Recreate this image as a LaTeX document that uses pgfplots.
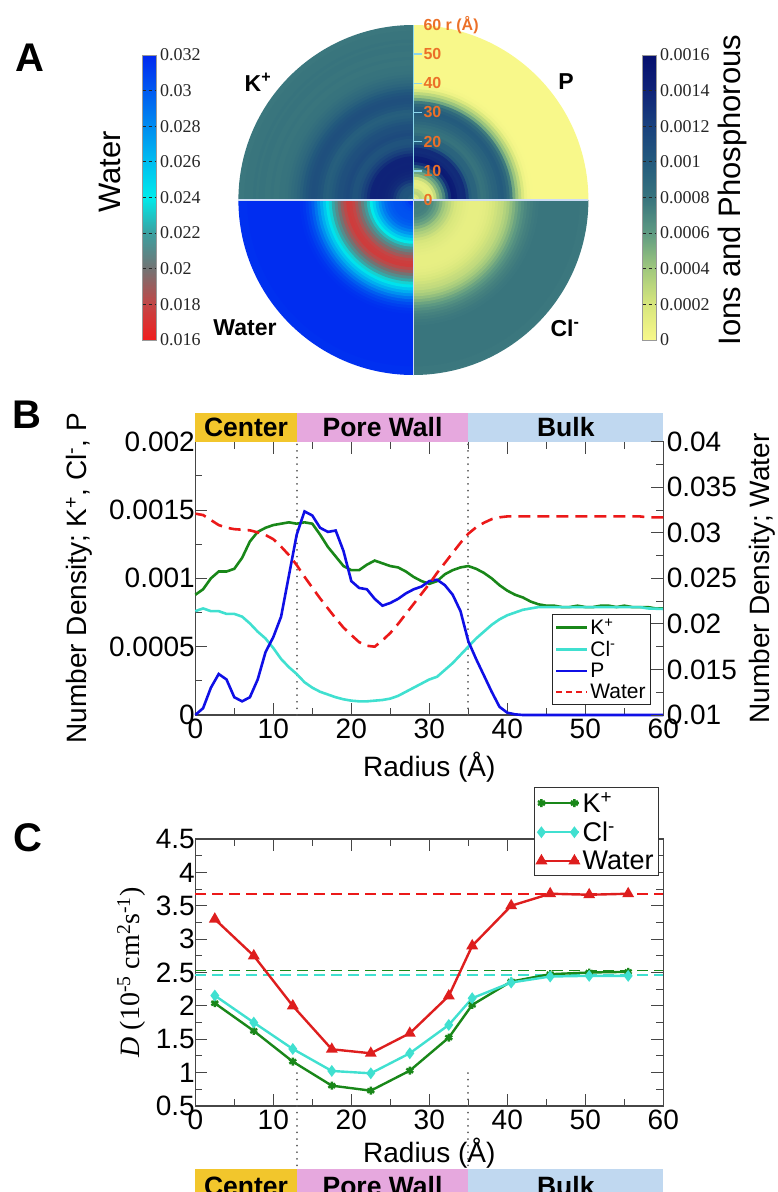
\documentclass[border=0pt]{standalone}
\usepackage{fontspec}
\setmainfont{Liberation Sans}
\newfontfamily\tnr{Liberation Serif}
\usepackage{pgfplots}
\usepackage{pgfplotstable}
\pgfplotsset{compat=1.18}

\newcommand{\fs}[1]{\fontsize{#1bp}{#1bp}\selectfont}

\definecolor{kgreen}{RGB}{25,135,25}
\definecolor{clcyan}{RGB}{64,224,208}
\definecolor{pblue}{RGB}{15,15,230}
\definecolor{wred}{RGB}{235,25,25}
\definecolor{dred}{RGB}{222,30,30}
\definecolor{orangelab}{RGB}{235,112,40}
\definecolor{centerband}{RGB}{242,198,44}
\definecolor{poreband}{RGB}{230,168,222}
\definecolor{bulkband}{RGB}{192,216,240}
\definecolor{frame}{RGB}{70,70,70}
\definecolor{dotgray}{RGB}{90,90,90}
\definecolor{sepline}{RGB}{205,220,245}
\definecolor{radaxis}{RGB}{140,215,235}

% radial number-density profiles (r in Angstrom)
\pgfplotstableread{
r  K       Cl       P        W
60 0.00078 0.000776 0        0.0317
59 0.00078 0.000778 0        0.0317
58 0.00079 0.00078  0        0.0317
57 0.00079 0.00079  0        0.0318
56 0.00079 0.00079  0        0.0318
55 0.00080 0.00079  0        0.0318
54 0.00079 0.00079  0        0.0318
53 0.00080 0.00079  0        0.0318
52 0.00080 0.00079  0        0.0318
51 0.00079 0.00079  0        0.0318
50 0.00079 0.00079  0        0.0318
49 0.00080 0.00079  0        0.0318
48 0.00079 0.00079  0        0.0318
47 0.00079 0.00079  0        0.0318
46 0.00080 0.00079  0        0.0318
45 0.00080 0.00079  0        0.0318
44 0.00081 0.00079  0        0.0318
43 0.00083 0.00078  0        0.0318
42 0.00086 0.00077  0        0.0318
41 0.00088 0.00075  0.000005 0.0318
40 0.00091 0.00073  0.000017 0.0318
39 0.00095 0.00070  0.00006  0.0317
38 0.00100 0.00066  0.00017  0.0315
37 0.00104 0.00061  0.00029  0.0311
36 0.00107 0.00056  0.00041  0.0306
35 0.00109 0.00050  0.00054  0.0299
34 0.00108 0.00044  0.00076  0.0289
33 0.00106 0.00038  0.00088  0.0278
32 0.00103 0.00033  0.00095  0.0267
31 0.00098 0.00028  0.00099  0.0256
30 0.00096 0.00026  0.00098  0.0244
29 0.00098 0.00023  0.00094  0.0233
28 0.00101 0.00020  0.00092  0.0222
27 0.00105 0.00017  0.00089  0.0211
26 0.00108 0.00014  0.00085  0.0200
25 0.00109 0.00012  0.00082  0.0190
24 0.00111 0.00011  0.00080  0.0182
23 0.00113 0.000105 0.00085  0.0175
22 0.00110 0.00010  0.00092  0.0176
21 0.00106 0.00010  0.00093  0.0180
20 0.00106 0.000105 0.00098  0.01878
19 0.00109 0.000115 0.00120  0.01959
18 0.00116 0.00013  0.00135  0.02061
17 0.00123 0.00015  0.00134  0.0217
16 0.00132 0.00017  0.00137  0.0228
15 0.00140 0.00020  0.00146  0.02398
14 0.00141 0.00024  0.00149  0.02518
13 0.00140 0.00030  0.00132  0.02646
12 0.00141 0.00035  0.00102  0.02756
11 0.00140 0.00041  0.00072  0.02848
10 0.00139 0.00049  0.00057  0.0293
9  0.00137 0.00056  0.00046  0.02976
8  0.00134 0.00061  0.00026  0.03005
7  0.00127 0.00067  0.00013  0.03027
6  0.00115 0.00072  0.00010  0.03034
5  0.00107 0.00074  0.00013  0.0304
4  0.00105 0.00074  0.00026  0.03056
3  0.00105 0.00076  0.00030  0.03085
2  0.00100 0.00076  0.00020  0.0314
1  0.00092 0.00078  0.00005  0.03195
0  0.00088 0.00076  0.00000  0.0321
}\profiles

% diffusion coefficients per radial bin (10^-5 cm^2/s)
\pgfplotstableread{
r    K     Cl    W
2.5  2.04  2.155 3.30
7.5  1.625 1.75  2.75
12.5 1.165 1.355 2.00
17.5 0.805 1.025 1.35
22.5 0.73  0.99  1.29
27.5 1.03  1.29  1.59
32.5 1.525 1.715 2.15
35.5 2.015 2.115 2.90
40.5 2.365 2.35  3.50
45.5 2.475 2.44  3.68
50.5 2.50  2.45  3.665
55.5 2.51  2.45  3.68
}\diffusion

% quarter-disc marks, one per quadrant
\pgfdeclareplotmark{qNE}{\pgfpathmoveto{\pgfpointorigin}\pgfpathlineto{\pgfqpoint{\pgfplotmarksize}{0pt}}\pgfpatharc{0}{90}{\pgfplotmarksize}\pgfpathclose\pgfusepathqfill}
\pgfdeclareplotmark{qNW}{\pgfpathmoveto{\pgfpointorigin}\pgfpathlineto{\pgfqpoint{0pt}{\pgfplotmarksize}}\pgfpatharc{90}{180}{\pgfplotmarksize}\pgfpathclose\pgfusepathqfill}
\pgfdeclareplotmark{qSW}{\pgfpathmoveto{\pgfpointorigin}\pgfpathlineto{\pgfqpoint{-\pgfplotmarksize}{0pt}}\pgfpatharc{180}{270}{\pgfplotmarksize}\pgfpathclose\pgfusepathqfill}
\pgfdeclareplotmark{qSE}{\pgfpathmoveto{\pgfpointorigin}\pgfpathlineto{\pgfqpoint{0pt}{-\pgfplotmarksize}}\pgfpatharc{270}{360}{\pgfplotmarksize}\pgfpathclose\pgfusepathqfill}

\tikzset{radlabel/.style={anchor=west, inner sep=0pt, text=orangelab, font=\bfseries\fs{16}}}

\pgfplotsset{
  colormap={waterm}{rgb255=(240,30,30) rgb255=(195,70,70) rgb255=(115,115,115) rgb255=(60,160,160) rgb255=(0,235,235) rgb255=(0,190,240) rgb255=(0,140,240) rgb255=(0,90,240) rgb255=(0,40,240)},
  colormap={ionm}{rgb255=(248,248,138) rgb255=(215,230,125) rgb255=(160,200,125) rgb255=(95,155,130) rgb255=(55,115,125) rgb255=(35,90,125) rgb255=(25,65,125) rgb255=(15,35,120) rgb255=(5,15,110)},
  scaled ticks=false,
  /pgf/number format/assume math mode=true,
  ring/.style={scatter, only marks,
    scatter/use mapped color={fill=mapped color, draw=none},
    point meta=explicit,
    visualization depends on={\thisrow{r} \as \ringr},
    scatter/@pre marker code/.append style={/tikz/mark size=\ringr*2.916667bp}},
  polar/.style={at={(413.4bp,-200bp)}, anchor=center,
    scale only axis, width=350bp, height=350bp,
    xmin=-60, xmax=60, ymin=-60, ymax=60,
    hide axis, clip=false},
  bar/.style={scale only axis, width=14bp, height=285bp, yshift=2.5bp,
    yticklabel pos=right, ytick pos=left,
    yticklabel style={font=\tnr\fs{18}, text=black!85},
    tick align=inside, major tick length=14bp,
    ytick style={black!85, line width=1bp, dash pattern=on 3.5bp off 2.5bp},
    axis line style={black!40, line width=0.6bp},
    scaled y ticks=false},
  density/.style={scale only axis, width=468bp, height=273.3bp,
    at={(195.3bp,-715bp)}, anchor=south west,
    xmin=0, xmax=60, tick align=inside,
    major tick length=12bp, minor tick length=7bp,
    tick style={frame, line width=1bp},
    axis line style={frame, line width=1.2bp},
    tick label style={font=\fs{28}},
    label style={font=\fs{28}}},
}

\begin{document}
\begin{tikzpicture}
\useasboundingbox (0,0) rectangle (778bp,-1192bp);

% ---------------- A: polar density map ----------------
\node[font=\bfseries\fs{40}] at (30bp,-58bp) {A};

\begin{axis}[polar,
  colormap name=waterm,
  point meta min=0.016, point meta max=0.032,
  colorbar,
  colorbar style={bar,
    at={(parent axis.west)}, anchor=east, xshift=-90.4bp,
    ytick={0.016,0.018,0.020,0.022,0.024,0.026,0.028,0.030,0.032},
    yticklabels={0.016,0.018,0.02,0.022,0.024,0.026,0.028,0.03,0.032}},
]
\addplot[ring, mark=qSW] table[x expr=0, y expr=0, meta=W] {\profiles};
\end{axis}

\begin{axis}[polar,
  colormap name=ionm,
  point meta min=0, point meta max=0.0016,
  colorbar,
  colorbar style={bar,
    at={(parent axis.east)}, anchor=west, xshift=45.6bp,
    ytick={0,0.0002,0.0004,0.0006,0.0008,0.001,0.0012,0.0014,0.0016},
    yticklabels={0,0.0002,0.0004,0.0006,0.0008,0.001,0.0012,0.0014,0.0016}},
]
\addplot[ring, mark=qNW] table[x expr=0, y expr=0, meta=K] {\profiles};
\addplot[ring, mark=qNE] table[x expr=0, y expr=0, meta=P] {\profiles};
\addplot[ring, mark=qSE] table[x expr=0, y expr=0, meta=Cl] {\profiles};
\end{axis}

% quadrant separators and radial scale, above the rings
\begin{axis}[polar]
\addplot[sepline, line width=1.4bp] coordinates {(-60,0) (60,0)};
\addplot[sepline, line width=1.4bp] coordinates {(0,-60) (0,0)};
\addplot[radaxis, line width=1.4bp] coordinates {(0,0) (0,60)};
\addplot[radaxis, line width=1.4bp] coordinates {(0,10) (3,10)};
\addplot[radaxis, line width=1.4bp] coordinates {(0,20) (3,20)};
\addplot[radaxis, line width=1.4bp] coordinates {(0,30) (3,30)};
\addplot[radaxis, line width=1.4bp] coordinates {(0,40) (3,40)};
\addplot[radaxis, line width=1.4bp] coordinates {(0,50) (3,50)};
\node[radlabel] at (axis cs:3.4,0) {0};
\node[radlabel] at (axis cs:3.4,10) {10};
\node[radlabel] at (axis cs:3.4,20) {20};
\node[radlabel] at (axis cs:3.4,30) {30};
\node[radlabel] at (axis cs:3.4,40) {40};
\node[radlabel] at (axis cs:3.4,50) {50};
\node[radlabel] at (axis cs:3.4,60) {60 r (Å)};
\end{axis}

\node[font=\bfseries\fs{23}] at (258bp,-82bp) {K\textsuperscript{+}};
\node[font=\bfseries\fs{23}] at (566bp,-82bp) {P};
\node[font=\bfseries\fs{23}] at (245bp,-328bp) {Water};
\node[font=\bfseries\fs{23}] at (565bp,-328bp) {Cl\textsuperscript{-}};
\node[rotate=90, font=\fs{31}] at (110bp,-172bp) {Water};
\node[rotate=90, font=\fs{31}] at (732bp,-190bp) {Ions and Phosphorous};

% ---------------- B: number density profiles ----------------
\node[font=\bfseries\fs{40}] at (27bp,-415bp) {B};

\begin{axis}[density,
  ymin=0, ymax=0.002,
  xtick={0,10,...,60}, minor x tick num=1,
  ytick={0,0.0005,0.001,0.0015,0.002},
  yticklabels={0,0.0005,0.001,0.0015,0.002},
  minor y tick num=1,
  ytick pos=left,
  yticklabel style={xshift=3bp},
  clip=false,
  xlabel={Radius (Å)},
  xlabel style={at={(axis description cs:0.5,-0.19)}, anchor=center},
  ylabel={Number Density; K\textsuperscript{+}, Cl\textsuperscript{-}, P},
  ylabel style={at={(axis description cs:-0.2485,0.5)}, anchor=center},
  legend style={at={(0.762,0.37)}, anchor=north west, font=\fs{21},
    draw=black!85, line width=0.8bp, inner sep=2.5bp, row sep=1bp,
    cells={anchor=west}},
  legend image code/.code={\draw[#1] (0bp,0bp) -- (23bp,0bp); \path (0bp,0bp) -- (31bp,0bp);},
]
\fill[centerband] (axis cs:0,0.002) rectangle (axis cs:13,0.00221);
\fill[poreband] (axis cs:13,0.002) rectangle (axis cs:35,0.00221);
\fill[bulkband] (axis cs:35,0.002) rectangle (axis cs:60,0.00221);
\node[font=\bfseries\fs{26.5}] at (axis cs:6.5,0.002105) {Center};
\node[font=\bfseries\fs{26.5}] at (axis cs:24,0.002105) {Pore Wall};
\node[font=\bfseries\fs{26.5}] at (axis cs:47.5,0.002105) {Bulk};
\addplot[dotgray, line width=1.8bp, line cap=round, dash pattern=on 0.1bp off 6.5bp, forget plot] coordinates {(13,0) (13,0.002)};
\addplot[dotgray, line width=1.8bp, line cap=round, dash pattern=on 0.1bp off 6.5bp, forget plot] coordinates {(35,0) (35,0.002)};
\addplot[kgreen, line width=2.6bp] table[x=r, y=K] {\profiles};
\addlegendentry{K\textsuperscript{+}}
\addplot[clcyan, line width=2.6bp] table[x=r, y=Cl] {\profiles};
\addlegendentry{Cl\textsuperscript{-}}
\addplot[pblue, line width=2.6bp] table[x=r, y=P] {\profiles};
\addlegendentry{P}
\addlegendimage{wred, line width=2.6bp, dash pattern=on 6bp off 4bp}
\addlegendentry{Water}
\end{axis}

\begin{axis}[density,
  ymin=0.01, ymax=0.04,
  axis x line=none, axis y line*=right,
  ytick={0.01,0.015,0.02,0.025,0.03,0.035,0.04},
  yticklabels={0.01,0.015,0.02,0.025,0.03,0.035,0.04},
  minor y tick num=1,
  ylabel={Number Density; Water},
  ylabel style={at={(axis description cs:1.211,0.5)}, anchor=center},
]
\addplot[wred, line width=2.6bp, dash pattern=on 12bp off 7bp] table[x=r, y=W] {\profiles};
\end{axis}

% ---------------- C: diffusion coefficients ----------------
\node[font=\bfseries\fs{40}] at (28bp,-838bp) {C};

\begin{axis}[density,
  at={(195.3bp,-1106bp)}, height=267bp,
  ymin=0.5, ymax=4.5,
  xtick={0,10,...,60}, minor x tick num=1,
  ytick={0.5,1,1.5,2,2.5,3,3.5,4,4.5},
  yticklabels={0.5,1,1.5,2,2.5,3,3.5,4,4.5},
  minor y tick num=1,
  yticklabel style={xshift=3bp},
  clip=false,
  xlabel={Radius (Å)},
  xlabel style={at={(axis description cs:0.5,-0.176)}, anchor=center},
  ylabel={\tnr\textit{D} (10\textsuperscript{-5} cm\textsuperscript{2}s\textsuperscript{-1})},
  ylabel style={at={(axis description cs:-0.137,0.5)}, anchor=center},
  legend style={at={(0.724,1.195)}, anchor=north west, font=\fs{27},
    draw=black!80, line width=0.8bp, inner sep=3bp, row sep=4bp,
    cells={anchor=west}, fill=white},
  legend image code/.code={\draw[#1] plot coordinates {(0bp,0bp) (33bp,0bp)}; \path (0bp,0bp) -- (38bp,0bp);},
]
\addplot[dotgray, line width=1.8bp, line cap=round, dash pattern=on 0.1bp off 6.5bp, forget plot] coordinates {(13,0.995) (13,-0.444)};
\addplot[dotgray, line width=1.8bp, line cap=round, dash pattern=on 0.1bp off 6.5bp, forget plot] coordinates {(35,0.995) (35,-0.444)};
\fill[centerband] (axis cs:0,-0.444) rectangle (axis cs:13,-1);
\fill[poreband] (axis cs:13,-0.444) rectangle (axis cs:35,-1);
\fill[bulkband] (axis cs:35,-0.444) rectangle (axis cs:60,-1);
\node[font=\bfseries\fs{26.5}] at (axis cs:6.5,-0.70) {Center};
\node[font=\bfseries\fs{26.5}] at (axis cs:24,-0.70) {Pore Wall};
\node[font=\bfseries\fs{26.5}] at (axis cs:47.5,-0.70) {Bulk};
\addplot[wred, line width=1.8bp, dash pattern=on 11bp off 6bp, forget plot] coordinates {(0,3.675) (60,3.675)};
\addplot[kgreen, line width=1.8bp, dash pattern=on 11bp off 6bp, forget plot] coordinates {(0,2.53) (60,2.53)};
\addplot[clcyan, line width=1.8bp, dash pattern=on 11bp off 6bp, forget plot] coordinates {(0,2.465) (60,2.465)};
\addplot[kgreen, line width=2.4bp, mark=asterisk, mark size=4bp] table[x=r, y=K] {\diffusion};
\addlegendentry{K\textsuperscript{+}}
\addplot[clcyan, line width=2.4bp, mark=diamond*, mark size=4bp] table[x=r, y=Cl] {\diffusion};
\addlegendentry{Cl\textsuperscript{-}}
\addplot[dred, line width=2.4bp, mark=triangle*, mark size=4.5bp] table[x=r, y=W] {\diffusion};
\addlegendentry{Water}
\end{axis}
\end{tikzpicture}
\end{document}
